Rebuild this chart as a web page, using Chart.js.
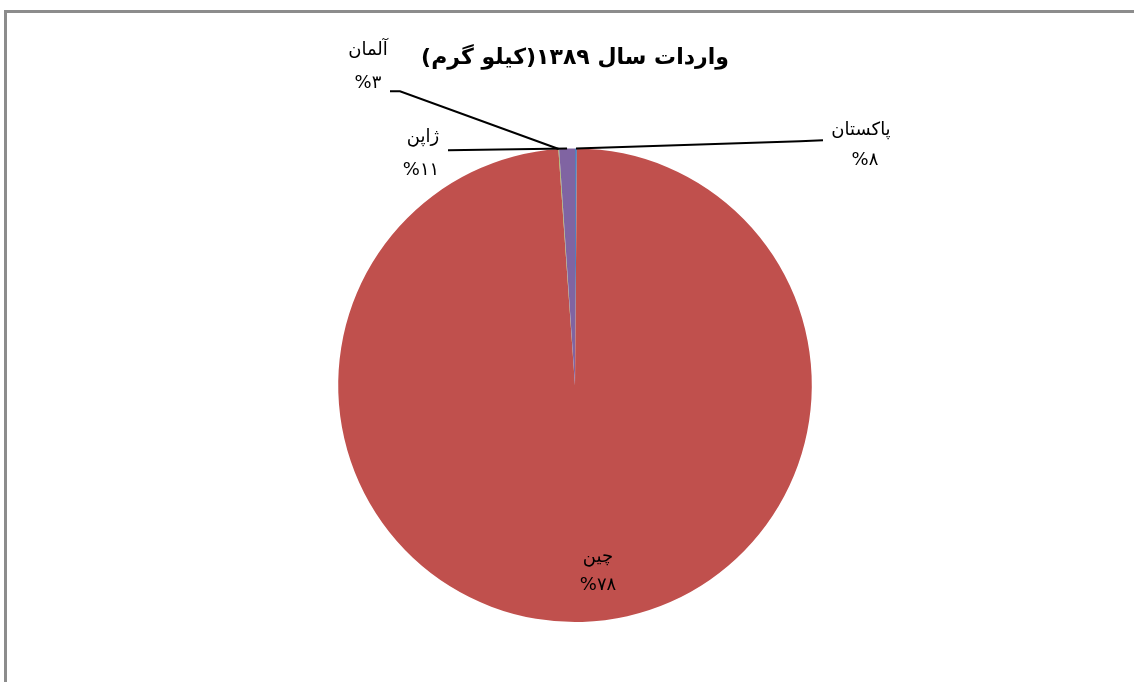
<!DOCTYPE html>
<html lang="fa">
<head>
<meta charset="utf-8">
<script src="https://cdn.jsdelivr.net/npm/chart.js@4"></script>
<style>
  html, body { margin: 0; padding: 0; background: #fff; }
  #wrap { position: relative; width: 1134px; height: 682px; overflow: hidden; }
  #frame { position: absolute; left: 4px; top: 10px; width: 1200px; height: 800px;
           border-left: 3px solid #8c8c8c; border-top: 3px solid #8c8c8c; }
  canvas { position: absolute; left: 0; top: 0; direction: rtl; }
</style>
</head>
<body>
<div id="wrap">
  <div id="frame"></div>
  <canvas id="graficoPie" width="1134" height="682"></canvas>
</div>
<script>
const countries = ['پاکستان', 'چین', 'آلمان', 'ژاپن'];
const imports = [130, 98750, 50, 1070];
const percentLabels = ['%۸', '%۷۸', '%۳', '%۱۱'];
const colors = ['#4F81BD', '#C0504D', '#9BBB59', '#8064A2'];

// where each label sits, relative to the pie centre
const labelPos = [
  { name: [286, -255], pct: [290, -225], leader: [[248, -245], [225, -244]] },
  { name: [23, 172], pct: [23, 200], leader: null },
  { name: [-207, -335], pct: [-207, -302], leader: [[-185, -294], [-175, -294]] },
  { name: [-152, -248], pct: [-154, -215], leader: [[-127, -235]] }
];

const etiquetas = {
  id: 'etiquetas',
  afterDatasetsDraw(chart) {
    const ctx = chart.ctx;
    const arcs = chart.getDatasetMeta(0).data;
    ctx.save();
    arcs.forEach((arc, i) => {
      const p = arc.getProps(['x', 'y', 'startAngle', 'endAngle', 'outerRadius'], true);
      const pos = labelPos[i];
      const cx = p.x, cy = p.y;
      if (pos.leader) {
        const mid = (p.startAngle + p.endAngle) / 2;
        ctx.beginPath();
        ctx.moveTo(cx + pos.leader[0][0], cy + pos.leader[0][1]);
        pos.leader.slice(1).forEach(pt => ctx.lineTo(cx + pt[0], cy + pt[1]));
        ctx.lineTo(cx + Math.cos(mid) * p.outerRadius, cy + Math.sin(mid) * p.outerRadius);
        ctx.strokeStyle = '#000';
        ctx.lineWidth = 2;
        ctx.stroke();
      }
      ctx.fillStyle = '#000';
      ctx.font = '18px "DejaVu Sans"';
      ctx.textAlign = 'center';
      ctx.textBaseline = 'middle';
      ctx.direction = 'rtl';
      ctx.fillText(countries[i], cx + pos.name[0], cy + pos.name[1]);
      ctx.direction = 'ltr';
      ctx.fillText(percentLabels[i], cx + pos.pct[0], cy + pos.pct[1]);
    });
    ctx.restore();
  }
};

const ctx = document.getElementById('graficoPie').getContext('2d');

const grafico = new Chart(ctx, {
  type: 'pie',
  data: {
    labels: countries,
    datasets: [{
      data: imports,
      backgroundColor: colors,
      borderWidth: 0
    }]
  },
  options: {
    responsive: false,
    animation: false,
    devicePixelRatio: 1,
    layout: {
      padding: { top: 0, bottom: 60, left: 16, right: 0 }
    },
    plugins: {
      legend: { display: false },
      tooltip: { enabled: false },
      title: {
        display: true,
        text: 'واردات سال ۱۳۸۹(کیلو گرم)',
        color: '#000',
        font: { family: 'DejaVu Sans', size: 22, weight: 'bold' },
        padding: { top: 45, bottom: 77 }
      }
    }
  },
  plugins: [etiquetas]
});
</script>
</body>
</html>
